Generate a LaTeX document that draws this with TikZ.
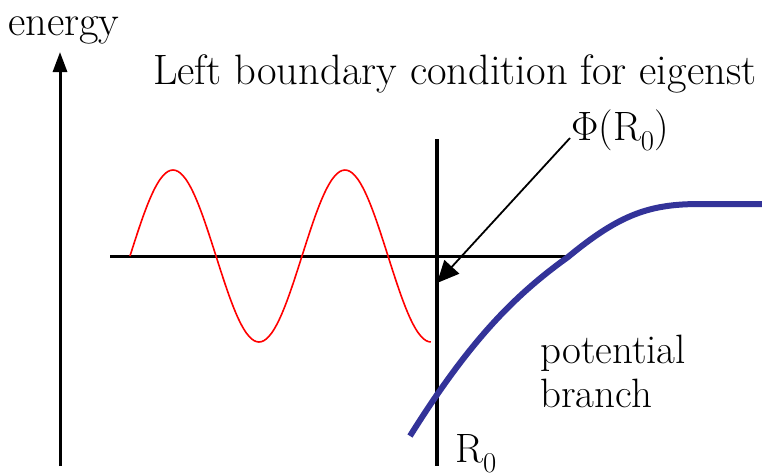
\documentclass[tikz,border=0pt]{standalone}
\usepackage{fontspec}
\usetikzlibrary{arrows.meta}
\definecolor{potblue}{RGB}{51,51,153}
\begin{document}
\begin{tikzpicture}[x=1pt,y=-1pt,
  lbl/.style={inner sep=0pt,anchor=base west,font=\fontsize{41}{44}\selectfont},
  titlelbl/.style={lbl,font=\fontsize{42.5}{44}\selectfont},
  axisline/.style={line width=3pt},
  wave/.style={red,line width=1.6pt},
  potline/.style={potblue,line width=6pt},
  pointer/.style={line width=1.8pt,-{Triangle[length=22pt,width=20pt]}}]
\useasboundingbox (0,0) rectangle (762,475);
\node[titlelbl] (energy) at (8,35) {energy};
\node[titlelbl] (title) at (153,84) {Left boundary condition for eigenst};
\coordinate (axbot) at (60,466);
\coordinate (axtop) at (60,52);
\draw[line width=3pt,-{Triangle[length=20pt,width=14pt]}] (axbot) -- (axtop);
\coordinate (hl) at (110,256);
\coordinate (hr) at (570,256);
\draw[axisline] (hl) -- (hr);
\coordinate (vt) at (437,139);
\coordinate (vb) at (437,466);
\draw[line width=4pt] (vt) -- (vb);
\draw[wave] plot[domain=0:1.75,samples=120,smooth] ({130+172*\x},{256-86*sin(360*\x)});
\draw[potline] (410,436) .. controls (470,340) and (515,295) .. (568,257) .. controls (620,214) and (650,204) .. (700,204) -- (762,204);
\node[lbl] (phi) at (571,140) {Φ(R\textsubscript{0})};
\coordinate (ptail) at (570,138);
\coordinate (ptip) at (437,283);
\draw[pointer] (ptail) -- (ptip);
\node[lbl] (pot) at (540,363) {potential};
\node[lbl] (br) at (540,407) {branch};
\node[lbl] (r0) at (455,462) {R\textsubscript{0}};
\end{tikzpicture}
\end{document}
